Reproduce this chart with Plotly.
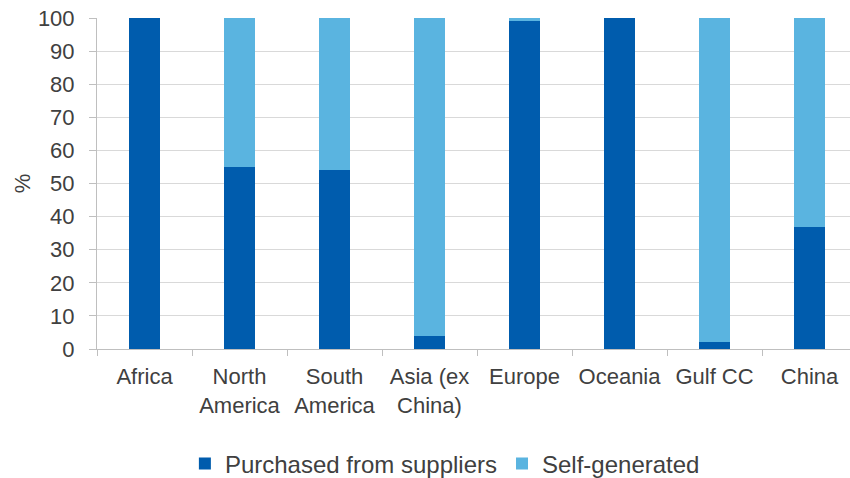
import plotly.graph_objects as go

categories = ["Africa", "North<br>America", "South<br>America", "Asia (ex<br>China)",
              "Europe", "Oceania", "Gulf CC", "China"]
purchased = [100, 55, 54, 4, 99, 100, 2, 37]
self_generated = [0, 45, 46, 96, 1, 0, 98, 63]
y_ticks = list(range(0, 101, 10))

dark = "#005CAD"
light = "#5AB4E0"
txt = "#404040"
font = dict(family="Liberation Sans, Arial, sans-serif", size=22, color=txt)

fig = go.Figure()
fig.add_trace(go.Bar(x=categories, y=purchased, name="Purchased from suppliers",
                     marker=dict(color=dark, line=dict(width=0))))
fig.add_trace(go.Bar(x=categories, y=self_generated, name="Self-generated",
                     marker=dict(color=light, line=dict(width=0))))

fig.update_layout(
    barmode="stack",
    bargap=0.67,
    width=850, height=478,
    margin=dict(l=97, r=0, t=18, b=129, autoexpand=False),
    paper_bgcolor="white", plot_bgcolor="white",
    font=font,
    showlegend=True,
    legend=dict(orientation="h", x=0.462, xanchor="center", y=-0.347, yanchor="middle",
                font=dict(size=24, color=txt), itemwidth=30, traceorder="normal"),
    xaxis=dict(range=[-0.5, 7.426], showline=True, linecolor="#BFBFBF", linewidth=1,
               ticks="outside", tickson="boundaries", ticklen=6, tickcolor="#BFBFBF",
               tickfont=dict(size=22, color=txt), showgrid=False, automargin=False,
               ticklabelstandoff=8),
    yaxis=dict(range=[0, 100], tickvals=y_ticks, showline=True, linecolor="#BFBFBF",
               linewidth=1, ticks="outside", ticklen=7, tickcolor="#BFBFBF",
               showgrid=True, gridcolor="#D9D9D9", gridwidth=1, zeroline=False,
               tickfont=dict(size=22, color=txt), automargin=False,
               ticklabelstandoff=10,
               title=dict(text="%", font=dict(size=22, color=txt), standoff=1)),
)

fig.write_html("out.html")
